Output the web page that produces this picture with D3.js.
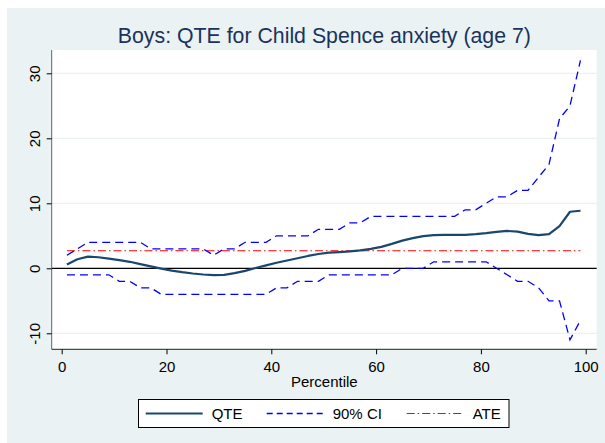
<!DOCTYPE html>
<html>
<head>
<meta charset="utf-8">
<script src="https://cdn.jsdelivr.net/npm/d3@7"></script>
<style>
  html, body { margin: 0; padding: 0; background: #ffffff; }
  svg { display: block; font-family: "Liberation Sans", Arial, Helvetica, sans-serif; }
</style>
</head>
<body>
<div id="chart"></div>
<script>
// ── Data ───────────────────────────────────────────────────────────────
const percentiles = d3.range(1, 100, 2);   // 1, 3, 5, ... 99

const qte = [
  0.6, 1.4, 1.8, 1.7, 1.5, 1.25, 1.0, 0.65, 0.3, -0.05,
  -0.35, -0.6, -0.8, -0.95, -1.05, -1.0, -0.75, -0.4, 0.05, 0.45,
  0.85, 1.2, 1.55, 1.9, 2.2, 2.4, 2.5, 2.6, 2.75, 3.0,
  3.3, 3.75, 4.25, 4.65, 4.95, 5.1, 5.15, 5.15, 5.15, 5.25,
  5.4, 5.6, 5.75, 5.65, 5.3, 5.1, 5.25, 6.5, 8.7, 8.85
];

const ciUpper = [
  2, 3, 4, 4, 4, 4, 4, 4, 3, 3,
  3, 3, 3, 3, 2, 3, 3, 4, 4, 4,
  5, 5, 5, 5, 6, 6, 6, 7, 7, 8,
  8, 8, 8, 8, 8, 8, 8, 8, 9, 9,
  10, 11, 11, 12, 12, 14, 16, 23, 25, 32
];

const ciLower = [
  -1, -1, -1, -1, -1, -2, -2, -3, -3, -4,
  -4, -4, -4, -4, -4, -4, -4, -4, -4, -4,
  -3, -3, -2, -2, -2, -1, -1, -1, -1, -1,
  -1, -1, 0, 0, 0, 1, 1, 1, 1, 1,
  1, 0, -1, -2, -2, -3, -5, -5, -11, -8
];

const ate = 2.7;

const xTicks = [0, 20, 40, 60, 80, 100];
const yTicks = [-10, 0, 10, 20, 30];

const legendItems = [
  { label: "QTE",    color: "#1a476f", width: 2.2, dash: null },
  { label: "90% CI", color: "#0000ff", width: 1.3, dash: "6,4" },
  { label: "ATE",    color: "#ff0000", width: 1.2, dash: "8,3,1.5,3" }
];

// ── Layout ─────────────────────────────────────────────────────────────
const W = 605, H = 443;
const plot = { left: 52, right: 596.7, top: 50, bottom: 349.3 };
const ui = {
  outerBg:  "#eaf2f3",
  grid:     "#e6eff1",
  title:    "#1c325b",
  axis:     "#666666",
  text:     "#000000"
};

const x = d3.scaleLinear().domain([0, 100]).range([61.7, 585.7]);
const y = d3.scaleLinear().domain([0, 30]).range([268.3, 73.3]);

const svg = d3.select("#chart")
  .append("svg")
  .attr("width",  W)
  .attr("height", H);

// outer graph region
svg.append("rect")
  .attr("x", 7).attr("y", 8)
  .attr("width",  W - 7)
  .attr("height", H - 8)
  .attr("fill",   ui.outerBg);

// plot region
svg.append("rect")
  .attr("x", plot.left).attr("y", plot.top)
  .attr("width",  plot.right - plot.left)
  .attr("height", plot.bottom - plot.top)
  .attr("fill",   "#ffffff");

// ── Title ──────────────────────────────────────────────────────────────
svg.append("text")
  .attr("x", (plot.left + plot.right) / 2)
  .attr("y", 43)
  .attr("text-anchor", "middle")
  .attr("fill", ui.title)
  .attr("font-size", "21.3px")
  .text("Boys: QTE for Child Spence anxiety (age 7)");

// ── Grid lines ─────────────────────────────────────────────────────────
svg.append("g")
  .selectAll("line")
  .data(yTicks.filter(d => d !== 0))
  .join("line")
    .attr("x1", plot.left).attr("x2", plot.right)
    .attr("y1", d => y(d)).attr("y2", d => y(d))
    .attr("stroke", ui.grid)
    .attr("stroke-width", 1);

// zero reference line
svg.append("line")
  .attr("x1", plot.left).attr("x2", plot.right)
  .attr("y1", y(0)).attr("y2", y(0))
  .attr("stroke", "#000000")
  .attr("stroke-width", 1.2);

// ── Series ─────────────────────────────────────────────────────────────
const line = d3.line()
  .x((d, i) => x(percentiles[i]))
  .y(d => y(d));

// ATE reference
svg.append("line")
  .attr("x1", x(percentiles[0]))
  .attr("x2", x(percentiles[percentiles.length - 1]))
  .attr("y1", y(ate)).attr("y2", y(ate))
  .attr("stroke", legendItems[2].color)
  .attr("stroke-width", legendItems[2].width)
  .attr("stroke-dasharray", legendItems[2].dash);

[ciUpper, ciLower].forEach(series => {
  svg.append("path")
    .datum(series)
    .attr("d", line)
    .attr("fill", "none")
    .attr("stroke", legendItems[1].color)
    .attr("stroke-width", legendItems[1].width)
    .attr("stroke-dasharray", "8,5");
});

svg.append("path")
  .datum(qte)
  .attr("d", line)
  .attr("fill", "none")
  .attr("stroke", legendItems[0].color)
  .attr("stroke-width", legendItems[0].width)
  .attr("stroke-linejoin", "round");

// ── Axes ───────────────────────────────────────────────────────────────
// Stata prints a plain hyphen for negatives, so use String() not d3.format
const yAxis = svg.append("g")
  .attr("transform", `translate(${plot.left - 0.3},0)`)
  .call(d3.axisLeft(y).tickValues(yTicks).tickSize(5).tickFormat(d => String(d)));
yAxis.select(".domain")
  .attr("d", `M0,${plot.top}V${plot.bottom}`)
  .attr("stroke", ui.axis);
yAxis.selectAll(".tick line").attr("stroke", "#000");
yAxis.selectAll(".tick text")
  .attr("font-size", "15px")
  .attr("font-family", "Liberation Sans, Arial, sans-serif")
  .attr("fill", ui.text)
  .attr("x", 0).attr("dy", 0)
  .attr("text-anchor", "middle")
  .attr("transform", "translate(-12,0) rotate(-90)");

const xAxis = svg.append("g")
  .attr("transform", `translate(0,${plot.bottom})`)
  .call(d3.axisBottom(x).tickValues(xTicks).tickSize(5).tickFormat(d => String(d)));
xAxis.select(".domain")
  .attr("d", `M${plot.left - 0.3},0H${plot.right}`)
  .attr("stroke", "#222");
xAxis.selectAll(".tick line").attr("stroke", "#000");
xAxis.selectAll(".tick text")
  .attr("font-size", "15px")
  .attr("font-family", "Liberation Sans, Arial, sans-serif")
  .attr("fill", ui.text)
  .attr("y", 22.5).attr("dy", 0);

svg.append("text")
  .attr("x", (plot.left + plot.right) / 2)
  .attr("y", 387)
  .attr("text-anchor", "middle")
  .attr("fill", ui.text)
  .attr("font-size", "15px")
  .text("Percentile");

// ── Legend ─────────────────────────────────────────────────────────────
const legend = svg.append("g");
legend.append("rect")
  .attr("x", 138.5).attr("y", 399.5)
  .attr("width", 370.5).attr("height", 28)
  .attr("fill", "#ffffff")
  .attr("stroke", "#000000")
  .attr("stroke-width", 1);

const legendX = [145.7, 266.7, 406.7];
legendItems.forEach((item, i) => {
  const x0 = legendX[i];
  legend.append("line")
    .attr("x1", x0).attr("x2", x0 + 57)
    .attr("y1", 413.5).attr("y2", 413.5)
    .attr("stroke", item.color)
    .attr("stroke-width", item.width)
    .attr("stroke-dasharray", item.dash);
  legend.append("text")
    .attr("x", x0 + 66)
    .attr("y", 419)
    .attr("fill", ui.text)
    .attr("font-size", "15px")
    .text(item.label);
});
</script>
</body>
</html>
